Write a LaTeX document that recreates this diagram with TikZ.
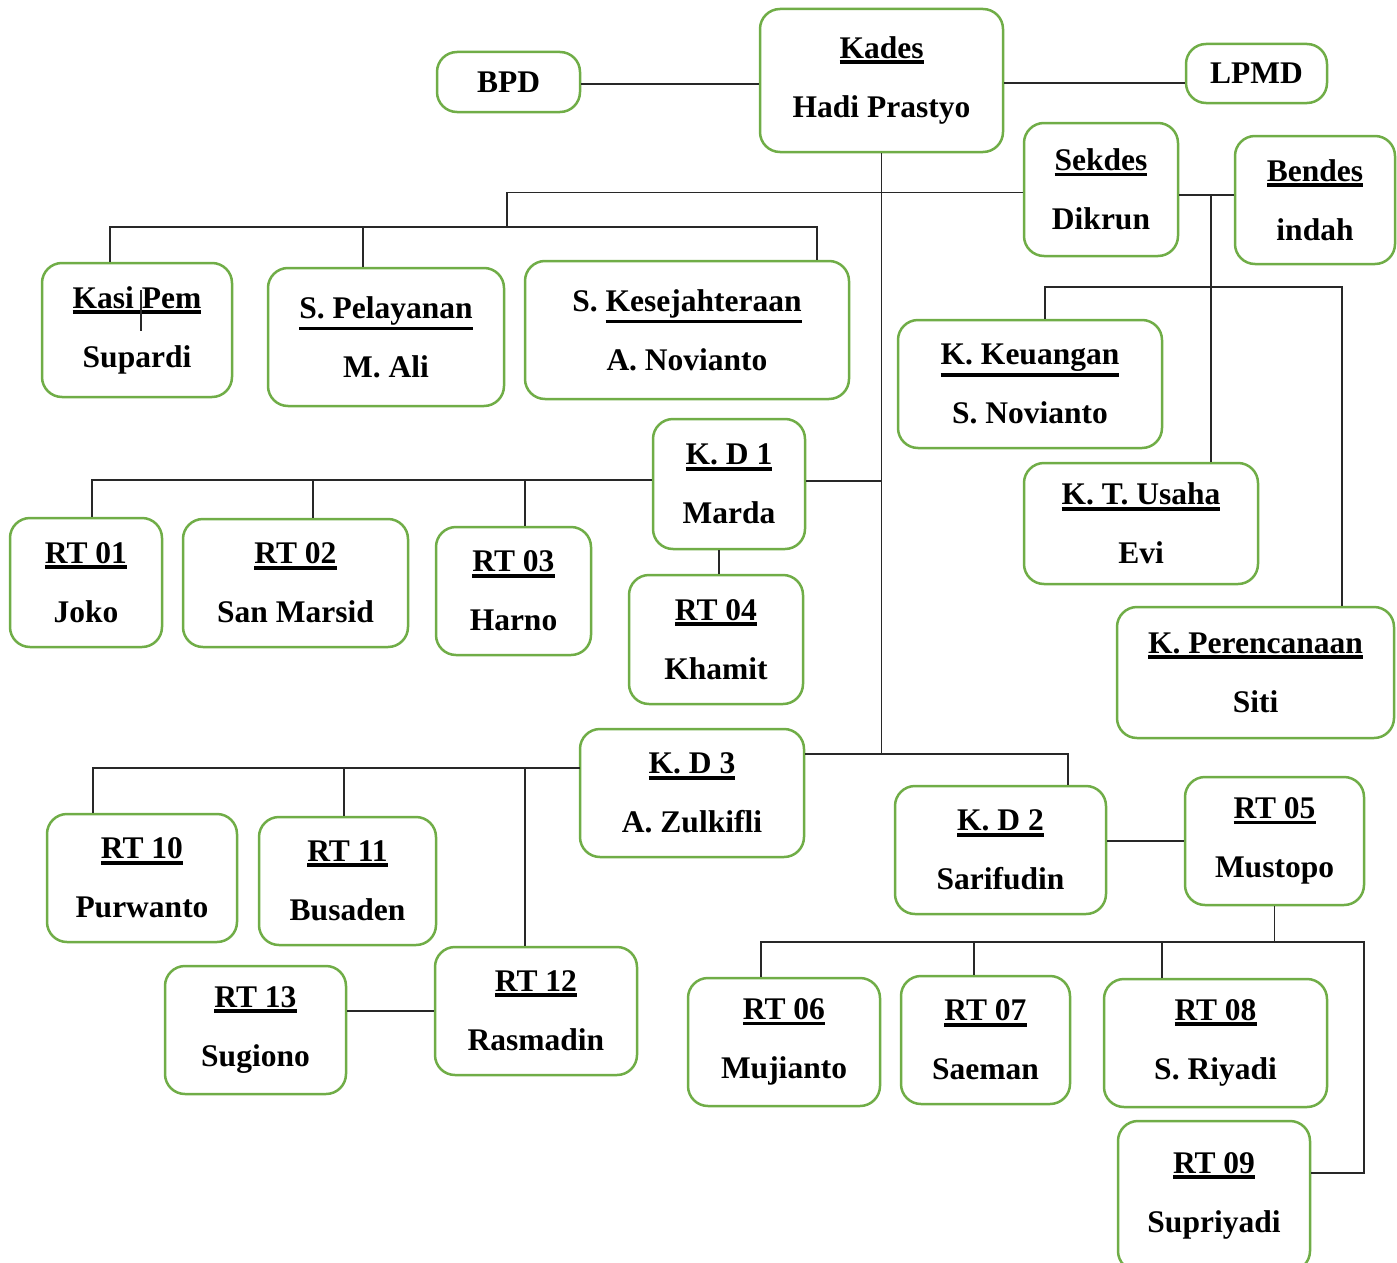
\documentclass[tikz,border=0pt]{standalone}
\usepackage{fontspec}
\setmainfont{Liberation Serif}
\usepackage{tikz}
\definecolor{boxgreen}{RGB}{112,173,71}
\definecolor{linkgray}{RGB}{40,40,40}
\newcommand{\uname}[1]{\vtop{\hbox{#1}\kern1.6pt\hrule height 3.8pt}}

\begin{document}
\begin{tikzpicture}[x=1pt,y=-1pt,
  unit/.style={draw=boxgreen,line width=2.5pt,rounded corners=20pt,fill=white,align=center,inner sep=0pt,
    font=\bfseries\fontsize{31.5}{59}\selectfont},
  link/.style={draw=linkgray,line width=1.1pt}]
  \useasboundingbox (0,0) rectangle (1397,1263);
  % top
  \node[unit,minimum width=243pt,minimum height=143pt] (kades) at (881.5,80.5) {\uname{Kades}\\Hadi Prastyo};
  \node[unit,minimum width=143pt,minimum height=60pt] (bpd) at (508.5,82) {BPD};
  \node[unit,minimum width=141pt,minimum height=59pt] (lpmd) at (1256.5,73.5) {LPMD};
  \node[unit,minimum width=154pt,minimum height=133pt] (sekdes) at (1101,189.5) {\uname{Sekdes}\\Dikrun};
  \node[unit,minimum width=160pt,minimum height=128pt] (bendes) at (1315,200) {\uname{Bendes}\\indah};
  % kasi
  \node[unit,minimum width=190pt,minimum height=134pt] (kasipem) at (137,330) {\uname{Kasi Pem}\\Supardi};
  \node[unit,minimum width=236pt,minimum height=138pt] (pelayanan) at (386,337) {\uname{S. Pelayanan}\\M. Ali};
  \node[unit,minimum width=324pt,minimum height=138pt] (kesejahteraan) at (687,330) {S. \uname{Kesejahteraan}\\A. Novianto};
  % kaur
  \node[unit,minimum width=264pt,minimum height=128pt] (keuangan) at (1030,384) {\uname{K. Keuangan}\\S. Novianto};
  \node[unit,minimum width=234pt,minimum height=121pt] (usaha) at (1141,523.5) {\uname{K. T. Usaha}\\Evi};
  \node[unit,minimum width=277pt,minimum height=131pt] (perencanaan) at (1255.5,672.5) {\uname{K. Perencanaan}\\Siti};
  % dusun 1
  \node[unit,minimum width=152pt,minimum height=130pt] (kd1) at (729,484) {\uname{K. D 1}\\Marda};
  \node[unit,minimum width=152pt,minimum height=129pt] (rt01) at (86,582.5) {\uname{RT 01}\\Joko};
  \node[unit,minimum width=225pt,minimum height=128pt] (rt02) at (295.5,583) {\uname{RT 02}\\San Marsid};
  \node[unit,minimum width=155pt,minimum height=128pt] (rt03) at (513.5,591) {\uname{RT 03}\\Harno};
  \node[unit,minimum width=174pt,minimum height=129pt] (rt04) at (716,639.5) {\uname{RT 04}\\Khamit};
  % dusun 3
  \node[unit,minimum width=224pt,minimum height=128pt] (kd3) at (692,793) {\uname{K. D 3}\\A. Zulkifli};
  \node[unit,minimum width=190pt,minimum height=128pt] (rt10) at (142,878) {\uname{RT 10}\\Purwanto};
  \node[unit,minimum width=177pt,minimum height=128pt] (rt11) at (347.5,881) {\uname{RT 11}\\Busaden};
  \node[unit,minimum width=202pt,minimum height=128pt] (rt12) at (536,1011) {\uname{RT 12}\\Rasmadin};
  \node[unit,minimum width=181pt,minimum height=128pt] (rt13) at (255.5,1030) {\uname{RT 13}\\Sugiono};
  % dusun 2
  \node[unit,minimum width=211pt,minimum height=128pt] (kd2) at (1000.5,850) {\uname{K. D 2}\\Sarifudin};
  \node[unit,minimum width=179pt,minimum height=128pt] (rt05) at (1274.5,841) {\uname{RT 05}\\Mustopo};
  \node[unit,minimum width=192pt,minimum height=128pt] (rt06) at (784,1042) {\uname{RT 06}\\Mujianto};
  \node[unit,minimum width=169pt,minimum height=128pt] (rt07) at (985.5,1040) {\uname{RT 07}\\Saeman};
  \node[unit,minimum width=223pt,minimum height=128pt] (rt08) at (1215.5,1043) {\uname{RT 08}\\S. Riyadi};
  \node[unit,minimum width=192pt,minimum height=150pt] (rt09) at (1214,1196) {\uname{RT 09}\\Supriyadi};

  \coordinate (staffbus) at (507,227);
  \coordinate (kaurbus) at (1045,287);
  \coordinate (finjoint) at ([yshift=-5.5pt]sekdes.east);
  \coordinate (d1bus) at ([yshift=4pt]kd1.west);
  \coordinate (trunk) at (879,754);
  \coordinate (d3bus) at (580,768);
  \coordinate (d2bus) at (1277,942);
  \coordinate (d2corner) at (1364,942);

  \draw[link] ([yshift=-2pt]bpd.east) -- ([yshift=-2pt]bpd.east -| kades.west);
  \draw[link] ([yshift=-2.5pt]kades.east) -- ([yshift=-2.5pt]kades.east -| lpmd.west);
  \draw[link] (kades.south) -- (kades.south |- trunk);
  \draw[link] ([yshift=-3pt]sekdes.west) -| (staffbus);
  \draw[link] ([xshift=-27pt]kasipem.north) |- ([xshift=130pt]kesejahteraan.north |- staffbus) -- ([xshift=130pt]kesejahteraan.north);
  \draw[link] ([xshift=-23pt]pelayanan.north) -- ([xshift=-23pt]pelayanan.north |- staffbus);
  \draw[link] (finjoint) -- (finjoint -| bendes.west);
  \draw[link] ([xshift=70pt]usaha.north) -- ([xshift=70pt]usaha.north |- finjoint);
  \draw[link] ([xshift=15pt]keuangan.north) -- (kaurbus) -| ([xshift=86.5pt]perencanaan.north);
  \draw[link] (141,290) -- (141,331);

  \draw[link] ([yshift=3pt]kd1.east) -- ([yshift=3pt]kd1.east -| kades.south);
  \draw[link] (d1bus) -| ([xshift=6pt]rt01.north);
  \draw[link] ([xshift=17.5pt]rt02.north) -- ([xshift=17.5pt]rt02.north |- d1bus);
  \draw[link] ([xshift=11.5pt]rt03.north) -- ([xshift=11.5pt]rt03.north |- d1bus);
  \draw[link] ([xshift=-10pt]kd1.south) -- ([xshift=-10pt]kd1.south |- rt04.north);

  \draw[link] (kd3.east |- trunk) -| ([xshift=67.5pt]kd2.north);
  \draw[link] (d3bus) -| ([xshift=-49pt]rt10.north);
  \draw[link] ([xshift=-3.5pt]rt11.north) -- ([xshift=-3.5pt]rt11.north |- d3bus);
  \draw[link] ([xshift=-11pt]rt12.north) -- ([xshift=-11pt]rt12.north |- d3bus);
  \draw[link] (rt12.west) -- (rt12.west -| rt13.east);

  \draw[link] (kd2.east |- rt05.west) -- (rt05.west);
  \draw[link] (rt05.south) -- (rt05.south |- d2bus);
  \draw[link] ([xshift=-23pt]rt06.north) |- (d2corner) |- ([yshift=23pt]rt09.east);
  \draw[link] ([xshift=-11.5pt]rt07.north) -- ([xshift=-11.5pt]rt07.north |- d2bus);
  \draw[link] ([xshift=-53.5pt]rt08.north) -- ([xshift=-53.5pt]rt08.north |- d2bus);
\end{tikzpicture}
\end{document}
